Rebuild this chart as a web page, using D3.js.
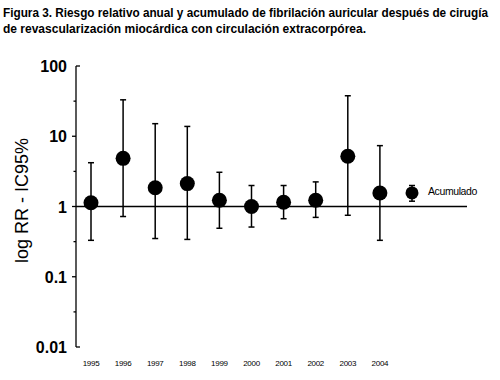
<!DOCTYPE html>
<html><head><meta charset="utf-8">
<script src="https://cdn.jsdelivr.net/npm/d3@7/dist/d3.min.js"></script>
<style>body{margin:0;background:#fff}svg{display:block}</style>
</head><body>
<script>
const titleLines = ["Figura 3. Riesgo relativo anual y acumulado de fibrilación auricular después de cirugía",
                    "de revascularización miocárdica con circulación extracorpórea."];
const years = ["1995","1996","1997","1998","1999","2000","2001","2002","2003","2004"];
const rr    = [1.13, 4.85, 1.85, 2.12, 1.23, 1.0, 1.15, 1.23, 5.18, 1.56];
const lower = [0.33, 0.72, 0.35, 0.34, 0.49, 0.51, 0.67, 0.70, 0.75, 0.33];
const upper = [4.2, 33, 15.1, 13.8, 3.07, 1.99, 1.99, 2.24, 37.7, 7.35];
const cumLabel = "Acumulado";
const cumRR = 1.56, cumLower = 1.19, cumUpper = 1.99;
const yTicks = [0.01, 0.1, 1, 10, 100];
const yTickLabels = ["0.01", "0.1", "1", "10", "100"];
const yMinor = [0.0316, 0.316, 3.16, 31.6];
const yTitle = "log RR - IC95%";

const W = 500, H = 380;
const svg = d3.select("body").append("svg").attr("width", W).attr("height", H);

// title
svg.selectAll("text.title").data(titleLines).join("text")
  .attr("x", 3).attr("y", (d, i) => 17 + i * 16)
  .attr("font-family", "Liberation Sans, Arial, sans-serif")
  .attr("font-weight", "bold").attr("font-size", 12)
  .attr("textLength", (d, i) => i === 0 ? 485 : 363)
  .attr("lengthAdjust", "spacingAndGlyphs")
  .text(d => d);

const y = d3.scaleLog().domain([0.01, 100]).range([347, 66]);
const cats = years.concat([cumLabel]);
const x = d3.scalePoint().domain(cats).range([91, 412]);
const axisX = 76;

// y axis
const g = svg.append("g").attr("stroke", "#000").attr("stroke-width", 1.3);
g.append("line").attr("x1", axisX).attr("x2", axisX).attr("y1", y(100)).attr("y2", y(0.01));
g.selectAll("line.maj").data(yTicks).join("line")
  .attr("x1", d => (d === 100 || d === 0.01) ? axisX + 4 : axisX - 4)
  .attr("x2", axisX).attr("y1", d => y(d)).attr("y2", d => y(d));
g.selectAll("line.min").data(yMinor).join("line")
  .attr("x1", axisX - 2.5).attr("x2", axisX).attr("y1", d => y(d)).attr("y2", d => y(d));

svg.selectAll("text.ytl").data(yTicks).join("text")
  .attr("x", 67).attr("y", d => y(d) + 6)
  .attr("text-anchor", "end")
  .attr("font-family", "Liberation Sans, Arial, sans-serif")
  .attr("font-weight", "bold").attr("font-size", 16)
  .text((d, i) => yTickLabels[i]);

svg.append("text")
  .attr("transform", `translate(28,${y(1) - 6}) rotate(-90)`)
  .attr("text-anchor", "middle")
  .attr("font-family", "Liberation Sans, Arial, sans-serif")
  .attr("font-size", 18)
  .text(yTitle);

// x labels
svg.selectAll("text.xl").data(years).join("text")
  .attr("x", d => x(d)).attr("y", 366)
  .attr("text-anchor", "middle")
  .attr("font-family", "Liberation Sans, Arial, sans-serif")
  .attr("font-size", 8).attr("letter-spacing", -0.3)
  .text(d => d);

// reference line at 1
svg.append("line").attr("x1", axisX).attr("x2", 467)
  .attr("y1", y(1)).attr("y2", y(1)).attr("stroke", "#000").attr("stroke-width", 1.5);

// error bars
const data = years.map((yr, i) => ({c: yr, v: rr[i], lo: lower[i], hi: upper[i]}));
data.push({c: cumLabel, v: cumRR, lo: cumLower, hi: cumUpper});
const eb = svg.append("g").attr("stroke", "#000").attr("stroke-width", 1.5);
eb.selectAll("line.v").data(data).join("line")
  .attr("x1", d => x(d.c)).attr("x2", d => x(d.c))
  .attr("y1", d => y(d.lo)).attr("y2", d => y(d.hi));
eb.selectAll("line.capH").data(data).join("line")
  .attr("x1", d => x(d.c) - 3).attr("x2", d => x(d.c) + 3)
  .attr("y1", d => y(d.hi)).attr("y2", d => y(d.hi));
eb.selectAll("line.capL").data(data).join("line")
  .attr("x1", d => x(d.c) - 3).attr("x2", d => x(d.c) + 3)
  .attr("y1", d => y(d.lo)).attr("y2", d => y(d.lo));

svg.selectAll("circle.pt").data(data).join("circle")
  .attr("cx", d => x(d.c)).attr("cy", d => y(d.v))
  .attr("r", d => d.c === cumLabel ? 6.5 : 7.5)
  .attr("fill", "#000");

svg.append("text").attr("x", 428).attr("y", y(cumRR) + 2)
  .attr("font-family", "Liberation Sans, Arial, sans-serif")
  .attr("font-size", 10.5).attr("letter-spacing", -0.4)
  .text(cumLabel);
</script>
</body></html>
